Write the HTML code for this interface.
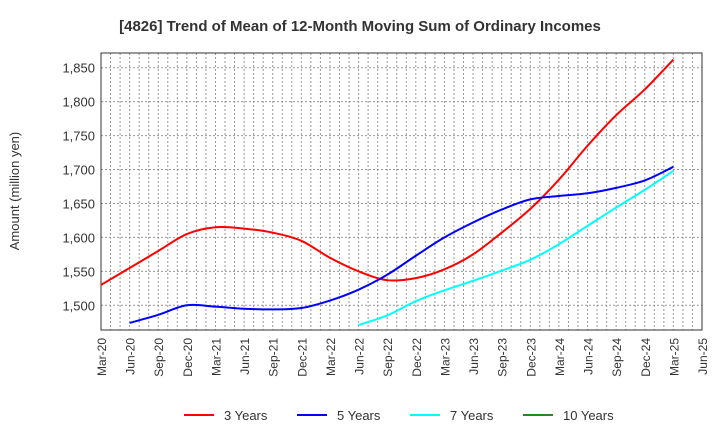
<!DOCTYPE html>
<html><head><meta charset="utf-8"><style>
body{margin:0;background:#fff;}
svg text{font-family:"Liberation Sans",Arial,sans-serif;fill:#333;}
</style></head><body>
<svg id="chart" width="720" height="440" xmlns="http://www.w3.org/2000/svg">
<text x="360" y="31" text-anchor="middle" font-size="15" font-weight="bold">[4826]  Trend of Mean of 12-Month Moving Sum of Ordinary Incomes</text>
<text transform="translate(19,191) rotate(-90)" text-anchor="middle" font-size="13">Amount (million yen)</text>
<g id="grid"></g><g id="axes"></g><g id="series"></g><g id="legend"></g>
</svg>
<script>
const xLabels=["Mar-20","Jun-20","Sep-20","Dec-20","Mar-21","Jun-21","Sep-21","Dec-21","Mar-22","Jun-22","Sep-22","Dec-22","Mar-23","Jun-23","Sep-23","Dec-23","Mar-24","Jun-24","Sep-24","Dec-24","Mar-25","Jun-25"];
const yTicks=[1500,1550,1600,1650,1700,1750,1800,1850];
const s3=[1530,1555,1580,1605,1615,1613,1607,1595,1570,1550,1537,1540,1553,1575,1607,1642,1685,1735,1780,1818,1862];
const s3Start=0;
const s5=[1474,1486,1500,1498,1495,1494,1496,1507,1523,1545,1573,1600,1622,1641,1656,1661,1665,1673,1684,1704];
const s5Start=1;
const s7=[1471,1485,1506,1522,1536,1551,1567,1590,1617,1644,1670,1698];
const s7Start=9;
const s10=[];
const s10Start=0;
const L=101,R=702,T=53,B=330;
const NS="http://www.w3.org/2000/svg";
function xq(i){return L+(R-L)*i/(xLabels.length-1);}
function yv(v){return 305.3-(v-1500)*(305.3-67.7)/350;}
function mk(tag,attrs,parent){const e=document.createElementNS(NS,tag);for(const k in attrs)e.setAttribute(k,attrs[k]);parent.appendChild(e);return e;}
const grid=document.getElementById('grid'),axes=document.getElementById('axes'),series=document.getElementById('series'),legend=document.getElementById('legend');
const months=(xLabels.length-1)*3;
for(let m=1;m<months;m++){const x=L+(R-L)*m/months;
const g=mk('line',{x1:x,x2:x,y1:T,y2:B,stroke:'#999','stroke-width':1,'stroke-dasharray':'2,2'},grid);
}
yTicks.forEach(v=>{const y=yv(v);
const g=mk('line',{x1:L,x2:R,y1:y,y2:y,stroke:'#999','stroke-width':1,'stroke-dasharray':'2,2'},grid);

const t=mk('text',{x:L-6,y:y+5,'text-anchor':'end','font-size':13},axes);t.textContent=v.toLocaleString('en-US');
});
xLabels.forEach((lb,i)=>{const x=xq(i);
const t=mk('text',{transform:`translate(${x+5},338) rotate(-90)`,'text-anchor':'end','font-size':12},axes);t.textContent=lb;
});
const fr=mk('rect',{x:L,y:T,width:R-L,height:B-T,fill:'none',stroke:'#333','stroke-width':1},axes);

function path(vals,start){if(!vals.length)return '';const p=vals.map((v,i)=>[xq(start+i),yv(v)]);let d=`M${p[0][0]},${p[0][1]}`;
for(let i=0;i<p.length-1;i++){const p0=p[i-1]||p[i],p1=p[i],p2=p[i+1],p3=p[i+2]||p2;
d+=` C${p1[0]+(p2[0]-p0[0])/6},${p1[1]+(p2[1]-p0[1])/6} ${p2[0]-(p3[0]-p1[0])/6},${p2[1]-(p3[1]-p1[1])/6} ${p2[0]},${p2[1]}`;}return d;}
const defs=[[s3,s3Start,'#ff0000','3 Years','series-3-years'],[s5,s5Start,'#0000ff','5 Years','series-5-years'],[s7,s7Start,'#00ffff','7 Years','series-7-years'],[s10,s10Start,'#228b22','10 Years','series-10-years']];
defs.forEach((d,k)=>{if(d[0].length){const e=mk('path',{d:path(d[0],d[1]),fill:'none',stroke:d[2],'stroke-width':2},series);
}
const lx=184+113*k;
const ln=mk('line',{x1:lx,x2:lx+30,y1:415,y2:415,stroke:d[2],'stroke-width':2},legend);

const t=mk('text',{x:lx+40,y:420,'font-size':13},legend);t.textContent=d[3];
});
</script>
</body></html>
